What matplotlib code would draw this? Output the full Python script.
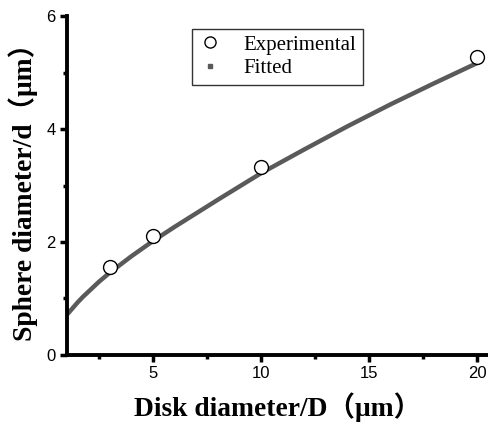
import matplotlib
matplotlib.use("Agg")
import matplotlib.pyplot as plt
from matplotlib.ticker import MultipleLocator

# measured points
disk_d = [3, 5, 10, 20]
sphere_d = [1.56, 2.10, 3.33, 5.27]

# fitted curve
fit_x = [1, 1.25, 1.5, 1.75, 2, 2.5, 3, 4, 5, 6, 8, 10, 12, 14, 16, 18, 20]
fit_y = [0.71, 0.82, 0.93, 1.03, 1.12, 1.30, 1.46, 1.75, 2.02, 2.27, 2.75, 3.22, 3.64, 4.05, 4.44, 4.81, 5.17]

x_ticks = [5, 10, 15, 20]
y_ticks = [0, 2, 4, 6]

serif = ["Liberation Serif", "Noto Sans CJK SC"]

fig = plt.figure(figsize=(4.88, 4.25), dpi=100)
ax = fig.add_axes([0.137, 0.165, 0.863, 0.797])

ax.plot(fit_x, fit_y, color="#5a5a5a", lw=3.2, solid_capstyle="butt", zorder=2)
ax.plot(disk_d, sphere_d, "o", ms=10, mfc="white", mec="black", mew=1.0, zorder=3)

# legend handles (fitted shown as small square)
h_exp, = ax.plot([], [], "o", ms=8, mfc="white", mec="black", mew=1.0)
h_fit, = ax.plot([], [], "s", ms=3, color="#5a5a5a")
leg = ax.legend([h_exp, h_fit], ["Experimental", "Fitted"],
                loc="upper left", bbox_to_anchor=(0.296, 0.963),
                prop={"family": "Liberation Serif", "size": 15},
                frameon=True, fancybox=False, edgecolor="black",
                borderpad=0.3, labelspacing=0.2, handlelength=1.2,
                handletextpad=1.0, borderaxespad=0)
leg.get_frame().set_linewidth(1.0)

ax.set_xlim(1, 20.5)
ax.set_ylim(0, 6)
ax.set_xticks(x_ticks)
ax.set_yticks(y_ticks)
ax.xaxis.set_minor_locator(MultipleLocator(2.5))
ax.yaxis.set_minor_locator(MultipleLocator(1))

for s in ["top", "right"]:
    ax.spines[s].set_visible(False)
for s in ["left", "bottom"]:
    ax.spines[s].set_linewidth(2.8)

ax.tick_params(which="major", direction="out", length=5, width=2.5,
               labelsize=12, pad=3)
ax.tick_params(which="minor", direction="out", length=3, width=2.5)
for lab in ax.get_xticklabels() + ax.get_yticklabels():
    lab.set_family("Liberation Sans")

ax.set_xlabel("Disk diameter/D（μm）", family=serif, fontweight="bold",
              fontsize=19.8, labelpad=8)
ax.set_ylabel("Sphere diameter/d（μm）", family=serif, fontweight="bold",
              fontsize=19.8, labelpad=6)

fig.savefig("out.png", dpi=100)
